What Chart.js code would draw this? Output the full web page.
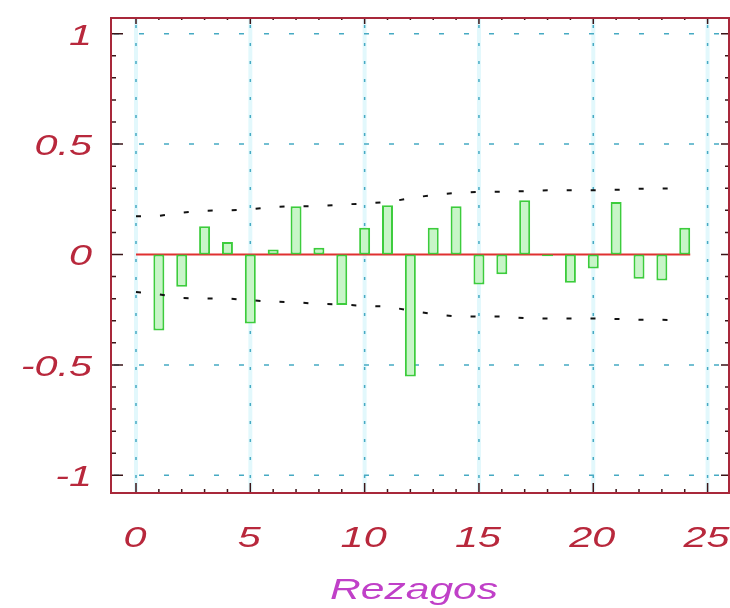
<!DOCTYPE html>
<html>
<head>
<meta charset="utf-8">
<script src="https://cdn.jsdelivr.net/npm/chart.js@4/dist/chart.umd.min.js"></script>
<style>
  html, body { margin: 0; padding: 0; background: #ffffff; }
  canvas { display: block; }
</style>
</head>
<body>
<canvas id="acf" width="730" height="608"></canvas>
<script>
// Autocorrelation by lag
const lags = [1, 2, 3, 4, 5, 6, 7, 8, 9, 10, 11, 12, 13, 14, 15, 16, 17, 18, 19, 20, 21, 22, 23, 24];
const acf = [-0.344, -0.146, 0.128, 0.057, -0.312, 0.023, 0.219, 0.030, -0.229, 0.121, 0.223, -0.553,
             0.121, 0.219, -0.136, -0.090, 0.246, -0.008, -0.128, -0.063, 0.238, -0.110, -0.118, 0.121];

// Confidence limits
const bandLags = [0, 1, 2, 3, 4, 5, 6, 7, 8, 9, 10, 11, 12, 13, 14, 15, 16, 17, 18, 19, 20, 21, 22, 23, 24];
const upperBand = [0.173, 0.175, 0.190, 0.198, 0.200, 0.205, 0.215, 0.219, 0.219, 0.226, 0.231, 0.237,
                   0.255, 0.270, 0.279, 0.284, 0.284, 0.287, 0.291, 0.291, 0.291, 0.293, 0.298, 0.299, 0.300];
const lowerBand = [-0.170, -0.180, -0.197, -0.199, -0.199, -0.207, -0.214, -0.216, -0.224, -0.226, -0.233, -0.235,
                   -0.255, -0.270, -0.280, -0.281, -0.281, -0.288, -0.290, -0.290, -0.290, -0.292, -0.296, -0.296, -0.297];

// Axis ticks
const xTicks = [0, 5, 10, 15, 20, 25];
const xTickLabels = ['0', '5', '10', '15', '20', '25'];
const yTicks = [-1, -0.5, 0, 0.5, 1];
const yTickLabels = ['-1', '-0.5', '0', '0.5', '1'];
const xTitle = 'Rezagos';

const FRAME = '#a8283a';
const TICK = '#3a1518';
const LABEL = '#b8283c';
const TITLE = '#c040c8';
const FONT = 'italic 30px "Liberation Sans", Arial, sans-serif';

function stretchedText(ctx, text, x, y, align, sx) {
  ctx.save();
  ctx.translate(x, y);
  ctx.scale(sx, 1);
  ctx.textAlign = align;
  ctx.textBaseline = 'alphabetic';
  ctx.fillText(text, 0, 0);
  ctx.restore();
}

const acfDecor = {
  id: 'acfDecor',
  beforeDraw(chart) {
    const ctx = chart.ctx;
    ctx.save();
    ctx.fillStyle = '#ffffff';
    ctx.fillRect(0, 0, chart.width, chart.height);
    ctx.restore();
  },
  beforeDatasetsDraw(chart) {
    const { ctx, chartArea: a, scales: { x, y } } = chart;
    ctx.save();
    // dotted grid with a faint cyan halo
    const vLines = xTicks.map(v => x.getPixelForValue(v));
    const hLines = yTicks.filter(v => v !== 0).map(v => y.getPixelForValue(v));
    ctx.strokeStyle = 'rgba(160,232,245,0.3)';
    ctx.lineWidth = 4;
    vLines.forEach(px => { ctx.beginPath(); ctx.moveTo(px, a.top); ctx.lineTo(px, a.bottom); ctx.stroke(); });
    ctx.strokeStyle = 'rgb(70,170,195)';
    ctx.lineWidth = 1.5;
    ctx.setLineDash([3, 15]);
    vLines.forEach(px => { ctx.beginPath(); ctx.moveTo(px, a.top + 8); ctx.lineTo(px, a.bottom); ctx.stroke(); });
    ctx.setLineDash([5, 20]);
    ctx.lineDashOffset = -4;
    hLines.forEach(py => { ctx.beginPath(); ctx.moveTo(a.left, py); ctx.lineTo(a.right, py); ctx.stroke(); });
    ctx.setLineDash([]);
    // zero line across the plotted lags
    const meta = chart.getDatasetMeta(0);
    const last = meta.data[meta.data.length - 1];
    const y0 = y.getPixelForValue(0);
    ctx.strokeStyle = '#e03030';
    ctx.lineWidth = 2;
    ctx.beginPath();
    ctx.moveTo(x.getPixelForValue(0), y0);
    ctx.lineTo(last.x + last.width / 2, y0);
    ctx.stroke();
    ctx.restore();
  },
  afterDatasetsDraw(chart) {
    const { ctx, chartArea: a, scales: { x, y } } = chart;
    ctx.save();
    // tick marks pointing inward
    ctx.strokeStyle = TICK;
    ctx.lineWidth = 1.5;
    ctx.beginPath();
    for (let i = 0; i <= 25; i++) {
      const px = x.getPixelForValue(i);
      const major = i % 5 === 0;
      ctx.moveTo(px, a.bottom); ctx.lineTo(px, a.bottom - (major ? 11 : 5));
      ctx.moveTo(px, a.top); ctx.lineTo(px, a.top + (major ? 7 : 3));
    }
    for (let i = -10; i <= 10; i++) {
      const py = y.getPixelForValue(i / 10);
      const major = i % 5 === 0;
      ctx.moveTo(a.left, py); ctx.lineTo(a.left + (major ? 13 : 6), py);
      ctx.moveTo(a.right, py); ctx.lineTo(a.right - (major ? 9 : 5), py);
    }
    ctx.stroke();
    // frame
    ctx.strokeStyle = FRAME;
    ctx.lineWidth = 2;
    ctx.strokeRect(a.left + 1, a.top + 1, a.right - a.left - 2, a.bottom - a.top - 2);
    ctx.restore();
  },
  afterDraw(chart) {
    const { ctx, chartArea: a, scales: { x, y } } = chart;
    ctx.save();
    ctx.font = FONT;
    ctx.fillStyle = LABEL;
    yTicks.forEach((v, i) => {
      stretchedText(ctx, yTickLabels[i], a.left - 18, y.getPixelForValue(v) + 11, 'right', 1.38);
    });
    xTicks.forEach((v, i) => {
      stretchedText(ctx, xTickLabels[i], x.getPixelForValue(v) - 1, a.bottom + 53, 'center', 1.38);
    });
    ctx.fillStyle = TITLE;
    stretchedText(ctx, xTitle, (a.left + a.right) / 2 - 6, a.bottom + 105, 'center', 1.42);
    ctx.restore();
  }
};

new Chart(document.getElementById('acf'), {
  type: 'bar',
  data: {
    datasets: [
      {
        type: 'bar',
        label: 'FAC',
        data: lags.map((l, i) => ({ x: l, y: acf[i] })),
        backgroundColor: '#c8f5c8',
        borderColor: '#3ccc3c',
        borderWidth: 2,
        borderSkipped: false,
        categoryPercentage: 1,
        barPercentage: 0.48,
        order: 2
      },
      {
        type: 'line',
        label: 'Límite superior',
        data: bandLags.map((l, i) => ({ x: l, y: upperBand[i] })),
        borderColor: '#111111',
        borderWidth: 2,
        borderDash: [5, 19],
        pointRadius: 0,
        fill: false,
        order: 1
      },
      {
        type: 'line',
        label: 'Límite inferior',
        data: bandLags.map((l, i) => ({ x: l, y: lowerBand[i] })),
        borderColor: '#111111',
        borderWidth: 2,
        borderDash: [5, 19],
        pointRadius: 0,
        fill: false,
        order: 1
      }
    ]
  },
  options: {
    responsive: false,
    animation: false,
    layout: { padding: { left: 110, right: 0, top: 17, bottom: 114 } },
    plugins: { legend: { display: false }, tooltip: { enabled: false } },
    scales: {
      x: { type: 'linear', offset: false, min: -1.137, max: 25.98, display: false },
      y: { type: 'linear', min: -1.0847, max: 1.0756, display: false }
    }
  },
  plugins: [acfDecor]
});
</script>
</body>
</html>
